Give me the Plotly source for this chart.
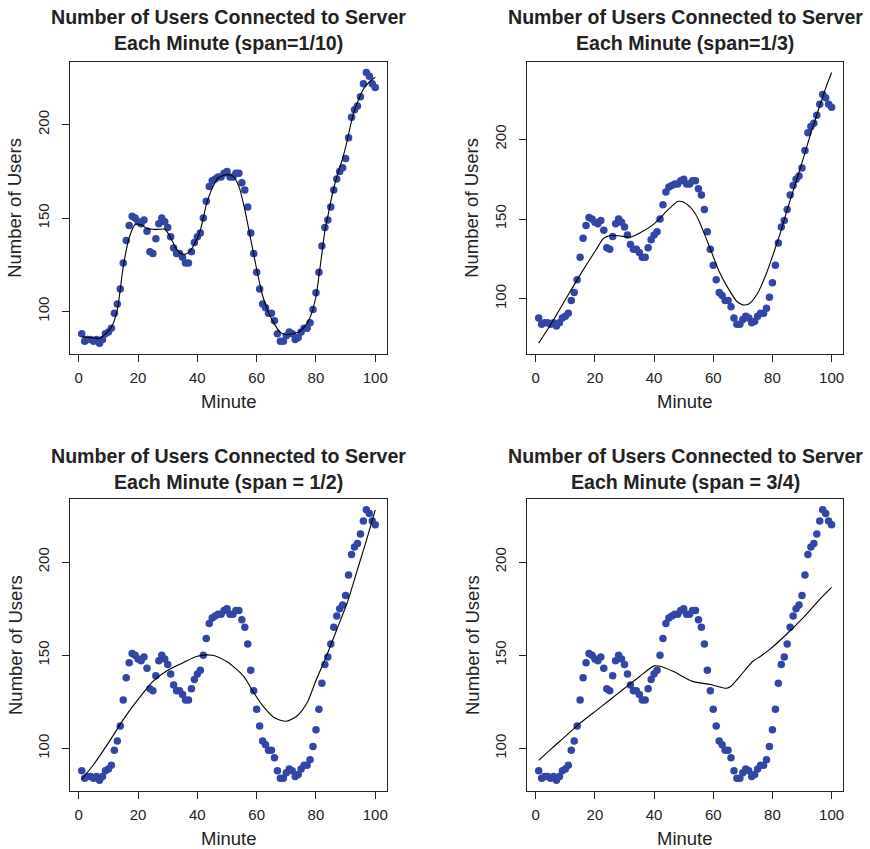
import plotly.graph_objects as go

# ---- data ----
minute = list(range(1, 101))
users = [88, 84, 85, 85, 84, 85, 83, 85, 88, 89,
         91, 99, 104, 112, 126, 138, 146, 151, 150, 148,
         147, 149, 143, 132, 131, 139, 147, 150, 148, 145,
         140, 134, 131, 131, 129, 126, 126, 132, 137, 140,
         142, 150, 159, 167, 170, 171, 172, 172, 174, 175,
         172, 172, 174, 174, 169, 165, 156, 142, 131, 121,
         112, 104, 102, 99, 99, 95, 88, 84, 84, 87,
         89, 88, 85, 86, 89, 91, 91, 94, 101, 110,
         121, 135, 145, 149, 156, 165, 171, 175, 177, 182,
         193, 204, 208, 210, 215, 222, 228, 226, 222, 220]

# loess curves
fit10_x = [1, 3, 5, 7, 9, 11, 13, 15, 17, 19, 21, 23, 25, 27, 29, 31, 33, 35, 37, 39,
           41, 43, 45, 47, 50, 52, 54, 56, 58, 60, 62, 64, 66, 68, 70, 72, 74, 76, 78, 80,
           81, 82, 83, 84, 85, 86, 87, 88, 89, 90, 91, 92, 93, 94, 95, 96, 98, 100]
fit10_y = [86.5, 86, 85.8, 85.6, 88, 91.5, 101, 124, 139.5, 146.6, 146.5, 144.5, 144, 144, 144,
           139.5, 133.3, 130.6, 131.5, 136, 143.5, 157, 166, 171.5, 173.3, 172.4, 167, 154.6,
           138.6, 122.6, 108.4, 99.5, 93.2, 88.8, 87.5, 87.9, 88.8, 91.5, 96.8, 108,
           119, 131, 143, 151, 159, 166, 172, 177, 182, 188, 195, 202, 208, 212, 216, 219, 223, 225.5]

fit3_x = [1, 5, 10, 15, 20, 23, 25, 28, 32, 35, 40, 45, 48, 50, 53, 55, 58, 60, 62, 65,
          68, 70, 72, 75, 78, 80, 83, 85, 88, 90, 93, 95, 98, 100]
fit3_y = [72.2, 83.7, 99.4, 115, 129.6, 138, 139.5, 139.5, 138.6, 141.1, 147, 156.3, 161, 160.5,
          155.8, 149.6, 136, 126.5, 117.1, 106.7, 98.3, 96.2, 96.7, 103.5, 116, 126.5, 143.2,
          155.8, 173.5, 185.4, 203.8, 215.2, 232, 241.8]

fit2_x = [1, 5, 10, 15, 20, 25, 30, 35, 40, 45, 50, 55.5, 59, 62, 66, 70, 73.5, 77, 80,
          83.5, 87, 90.5, 94, 97, 100]
fit2_y = [83.5, 91.4, 103, 115.5, 126.3, 136, 142, 145.9, 149.5, 150, 146.5, 139, 130, 123,
          116.5, 114.6, 117.3, 124.5, 136.5, 149.4, 163.7, 178, 196, 211.5, 228]

fit34_x = [1, 5, 10, 14, 20, 25, 30, 35, 40, 42, 46.4, 53, 59, 64.5, 66, 69, 73.4, 76, 79,
           84.6, 91.4, 96, 100]
fit34_y = [93.6, 99.5, 106.5, 112.3, 119.8, 126, 132.3, 138.5, 144.3, 144.1, 141.4, 136, 134.3,
           132.3, 133.4, 138.7, 146.8, 149.5, 153, 161, 171.8, 180, 186.4]

titles = [("Number of Users Connected to Server", "Each Minute (span=1/10)"),
          ("Number of Users Connected to Server", "Each Minute (span=1/3)"),
          ("Number of Users Connected to Server", "Each Minute (span = 1/2)"),
          ("Number of Users Connected to Server", "Each Minute (span = 3/4)")]
fits = [(fit10_x, fit10_y), (fit3_x, fit3_y), (fit2_x, fit2_y), (fit34_x, fit34_y)]
yranges = [[77.2, 233.8], [65.4, 248.6], [77.2, 233.8], [77.2, 233.8]]
x_ticks = [0, 20, 40, 60, 80, 100]
y_ticks = [100, 150, 200]

# ---- layout geometry (pixels) ----
W, H = 870, 849
boxes = [(70, 387, 61.7, 354), (527, 843.3, 61.7, 354),
         (70, 387, 499, 791), (527, 843.3, 499, 791)]

FONT = "Liberation Sans, Arial, Helvetica, sans-serif"
INK = "#222222"
DOT = "#3246A6"

fig = go.Figure()
annotations = []
layout_axes = {}

for i in range(4):
    xl, xr, yt, yb = boxes[i]
    xa = "x" if i == 0 else f"x{i+1}"
    ya = "y" if i == 0 else f"y{i+1}"
    fig.add_trace(go.Scatter(x=minute, y=users, mode="markers", xaxis=xa, yaxis=ya,
                             marker=dict(color=DOT, size=7.5, line=dict(width=0)),
                             showlegend=False, hoverinfo="skip"))
    fx, fy = fits[i]
    fig.add_trace(go.Scatter(x=fx, y=fy, mode="lines", xaxis=xa, yaxis=ya,
                             line=dict(color="black", width=1.1, shape="spline", smoothing=0.7),
                             showlegend=False, hoverinfo="skip"))
    xkey = "xaxis" if i == 0 else f"xaxis{i+1}"
    ykey = "yaxis" if i == 0 else f"yaxis{i+1}"
    layout_axes[xkey] = dict(domain=[xl / W, xr / W], anchor=ya, range=[-2.96, 103.96],
                             tickvals=x_ticks, ticks="outside", ticklen=7, tickwidth=1,
                             tickcolor=INK, showline=True, mirror=True, linecolor=INK,
                             linewidth=1, showgrid=False, zeroline=False,
                             tickfont=dict(family=FONT, size=15, color=INK),
                             ticklabelstandoff=3)
    layout_axes[ykey] = dict(domain=[1 - yb / H, 1 - yt / H], anchor=xa, range=yranges[i],
                             tickvals=y_ticks, ticks="outside", ticklen=7, tickwidth=1,
                             tickcolor=INK, showline=True, mirror=True, linecolor=INK,
                             linewidth=1, showgrid=False, zeroline=False, tickangle=-90,
                             tickfont=dict(family=FONT, size=15, color=INK),
                             ticklabelstandoff=7)
    cx = (xl + xr) / 2
    cy = (yt + yb) / 2
    t1, t2 = titles[i]
    l1y = yt - 45 if i < 2 else yt - 43
    l2y = yt - 18.4 if i < 2 else yt - 17.3
    for txt, py in ((t1, l1y), (t2, l2y)):
        annotations.append(dict(text=f"<b>{txt}</b>", x=cx / W, y=1 - py / H, xref="paper",
                                yref="paper", xanchor="center", yanchor="middle",
                                showarrow=False, font=dict(family=FONT, size=19.6, color=INK)))
    annotations.append(dict(text="Minute", x=cx / W, y=1 - (yb + 47.5) / H, xref="paper",
                            yref="paper", xanchor="center", yanchor="middle", showarrow=False,
                            font=dict(family=FONT, size=18.5, color=INK)))
    annotations.append(dict(text="Number of Users", x=(xl - 55) / W, y=1 - cy / H,
                            xref="paper", yref="paper", xanchor="center", yanchor="middle",
                            textangle=-90, showarrow=False,
                            font=dict(family=FONT, size=18.5, color=INK)))

fig.update_layout(width=W, height=H, margin=dict(l=0, r=0, t=0, b=0),
                  paper_bgcolor="white", plot_bgcolor="white",
                  annotations=annotations, **layout_axes)

fig.write_html("out.html", config={"displayModeBar": False},
               post_script="document.body.style.margin='0';document.body.style.padding='0';"
                           "document.body.style.overflow='hidden';")
